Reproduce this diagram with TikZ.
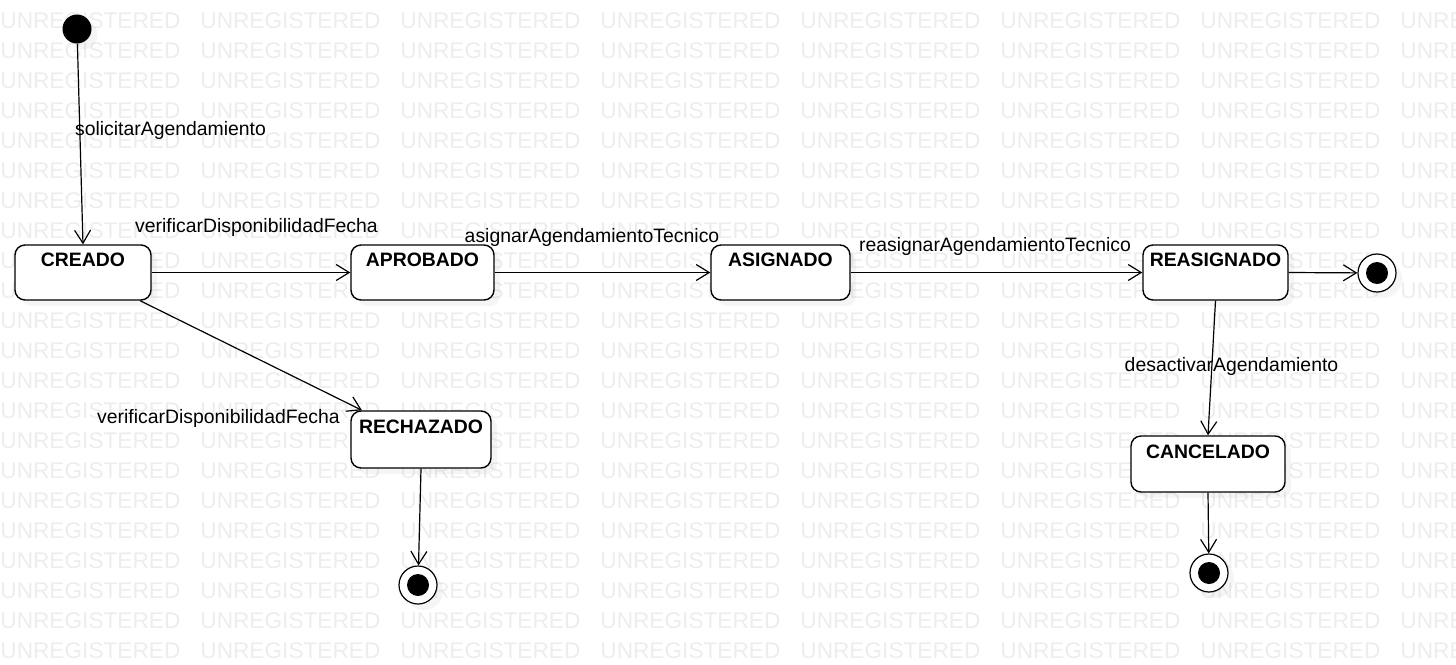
\documentclass[tikz,border=0pt]{standalone}
\usepackage{fontspec}
\setmainfont{Liberation Sans}
\usetikzlibrary{arrows.meta,shadows}
\newcommand\diagfont{\fontsize{9.7}{11.6}\selectfont}
\tikzset{
  statebox/.style={draw, line width=0.7pt, fill=white, rounded corners=5pt,
    font=\diagfont\bfseries, inner xsep=0pt, inner ysep=0pt,
    text height=10.75pt, text depth=16.75pt, minimum height=27.5pt,
    drop shadow={shadow xshift=3pt, shadow yshift=-3pt, opacity=0.08}},
  startstate/.style={circle, fill=black, minimum size=14.5pt, inner sep=0pt,
    drop shadow={shadow xshift=3pt, shadow yshift=-3pt, opacity=0.08}},
  endstate/.style={circle, draw, line width=0.6pt, fill=white, minimum size=19pt, inner sep=0pt,
    drop shadow={shadow xshift=3pt, shadow yshift=-3pt, opacity=0.08},
    path picture={\fill [black] (path picture bounding box.center) circle (5.5pt);}},
  trans/.style={line width=0.6pt, -{Straight Barb[length=6.5pt,width=8pt]}},
  lbl/.style={font=\diagfont, inner sep=0pt},
  wm/.style={text=black!7, font=\fontsize{11.33}{13}\selectfont, inner sep=0pt, anchor=west}
}
\begin{document}
\begin{tikzpicture}[x=0.5pt, y=-0.5pt]
    \useasboundingbox (0,0) rectangle (1456,664);

    % watermark
    \begin{scope}
      \clip (0,0) rectangle (1456,664);
      \foreach \r in {0,...,21}
        \foreach \c in {0,...,7}
          \node [wm] (wm-\r-\c) at (200*\c, 20.5+30*\r) {UNREGISTERED};
    \end{scope}

    % states
    \node [startstate] (init) at (77,29) {};
    \node [statebox, minimum width=68pt] (creado) at (83,272.5) {CREADO};
    \node [statebox, minimum width=71.5pt] (aprobado) at (422.5,272.5) {APROBADO};
    \node [statebox, minimum width=69.5pt] (asignado) at (780.5,272.5) {ASIGNADO};
    \node [statebox, minimum width=72.5pt] (reasignado) at (1215.5,272.5) {REASIGNADO};
    \node [statebox, minimum width=70pt, minimum height=28.5pt] (rechazado) at (421,439.5) {RECHAZADO};
    \node [statebox, minimum width=77pt, minimum height=28pt] (cancelado) at (1208,464) {CANCELADO};
    \node [endstate] (finReasignado) at (1377,273) {};
    \node [endstate] (finRechazado) at (418,585) {};
    \node [endstate] (finCancelado) at (1209,573) {};

    % transitions
    \draw [trans] (init) -- (creado.north);
    \draw [trans] (creado.east) -- (aprobado.west);
    \draw [trans] (aprobado.east) -- (asignado.west);
    \draw [trans] (asignado.east) -- (reasignado.west);
    \draw [trans] (reasignado.east) -- (finReasignado);
    \draw [trans] (creado) -- (rechazado);
    \draw [trans] (rechazado.south) -- (finRechazado);
    \draw [trans] (reasignado.south) -- (cancelado.north);
    \draw [trans] (cancelado.south) -- (finCancelado);

    % add labels
    \node [lbl] (lblSolicitar) at (170.5,130) {solicitarAgendamiento};
    \node [lbl] (lblVerificarA) at (256.5,227) {verificarDisponibilidadFecha};
    \node [lbl] (lblAsignar) at (592,237) {asignarAgendamientoTecnico};
    \node [lbl] (lblReasignar) at (995,246) {reasignarAgendamientoTecnico};
    \node [lbl] (lblVerificarB) at (218.5,418) {verificarDisponibilidadFecha};
    \node [lbl] (lblDesactivar) at (1231.5,366) {desactivarAgendamiento};
\end{tikzpicture}
\end{document}
